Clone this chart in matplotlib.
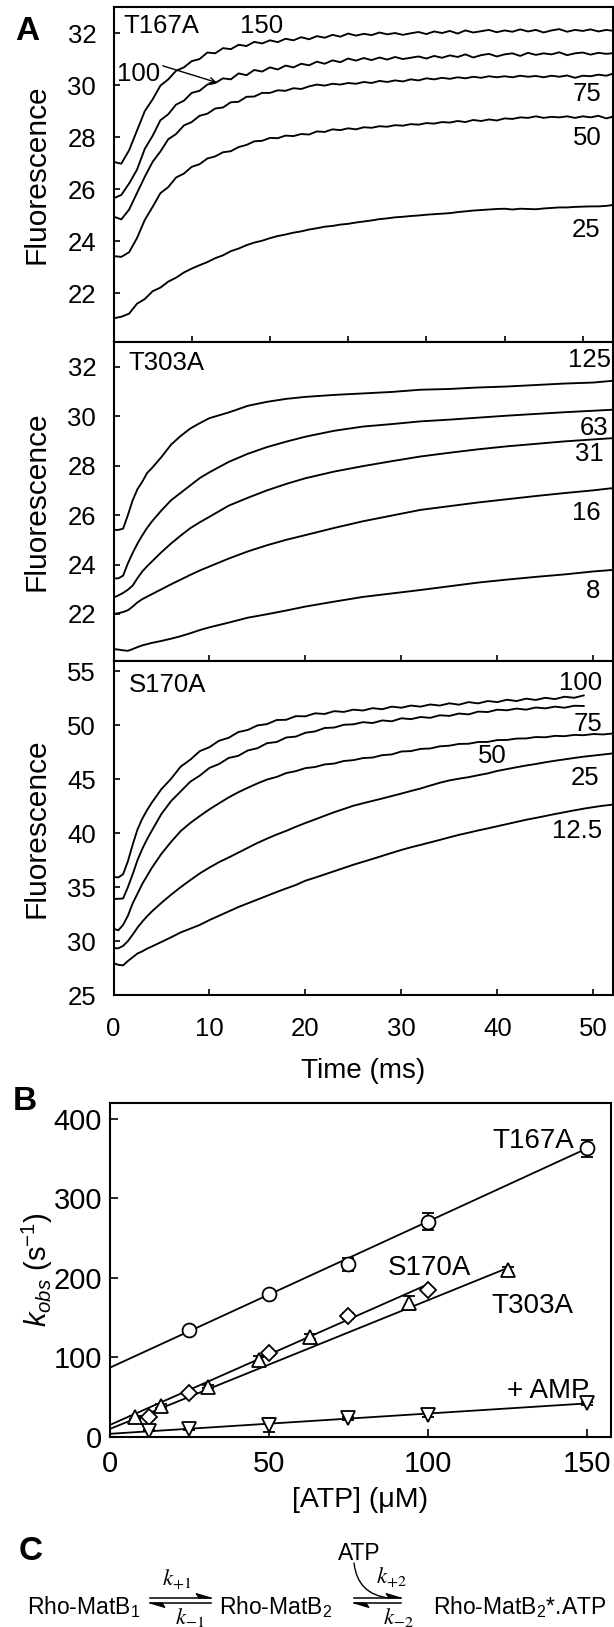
import numpy as np
import matplotlib
matplotlib.use("Agg")
import matplotlib.pyplot as plt
from matplotlib.patches import Polygon

plt.rcParams['font.family'] = ['Liberation Sans', 'DejaVu Sans']
plt.rcParams['mathtext.fontset'] = 'custom'
plt.rcParams['mathtext.rm'] = 'Liberation Sans'
plt.rcParams['mathtext.it'] = 'Liberation Sans:italic'
plt.rcParams['mathtext.bf'] = 'Liberation Sans:bold'

# ---------------- Panel A data: T167A (time in ms, 0..64) ----------------
t_T167A = np.arange(0, 65)
T167A_150 = [27.05, 26.98, 27.50, 28.25, 29.00, 29.45, 29.98, 30.22, 30.55, 30.68,
             30.92, 31.00, 31.25, 31.22, 31.42, 31.38, 31.55, 31.50, 31.66, 31.60,
             31.72, 31.65, 31.78, 31.72, 31.84, 31.76, 31.88, 31.82, 31.93, 31.86,
             31.98, 31.90, 31.97, 31.92, 32.02, 31.95, 32.00, 31.93, 31.99, 32.04,
             31.96, 32.06, 32.00, 32.08, 31.98, 32.10, 32.02, 32.07, 32.12, 32.03,
             32.10, 32.05, 32.14, 32.06, 32.12, 32.02, 32.10, 32.15, 32.05, 32.12,
             32.08, 32.14, 32.06, 32.12, 32.08]
T167A_100 = [25.65, 25.78, 26.22, 26.75, 27.55, 28.05, 28.65, 28.88, 29.25, 29.40,
             29.70, 29.78, 30.02, 30.08, 30.26, 30.22, 30.45, 30.38, 30.58, 30.52,
             30.68, 30.60, 30.75, 30.68, 30.82, 30.76, 30.90, 30.82, 30.95, 30.88,
             31.02, 30.94, 31.04, 30.96, 31.06, 30.98, 31.08, 31.00, 31.05, 31.10,
             31.02, 31.12, 31.05, 31.14, 31.08, 31.18, 31.06, 31.15, 31.20, 31.10,
             31.18, 31.22, 31.12, 31.24, 31.16, 31.22, 31.18, 31.26, 31.15, 31.22,
             31.25, 31.17, 31.24, 31.20, 31.23]
T167A_75 = [24.95, 24.84, 25.22, 25.85, 26.48, 27.05, 27.45, 27.92, 28.12, 28.45,
            28.58, 28.82, 28.90, 29.10, 29.14, 29.34, 29.36, 29.55, 29.56, 29.70,
            29.70, 29.80, 29.78, 29.88, 29.85, 29.95, 30.02, 29.98, 30.05, 30.02,
            30.08, 30.05, 30.12, 30.08, 30.16, 30.12, 30.18, 30.14, 30.22, 30.18,
            30.26, 30.22, 30.28, 30.24, 30.30, 30.26, 30.32, 30.28, 30.34, 30.30,
            30.34, 30.30, 30.36, 30.32, 30.35, 30.30, 30.36, 30.32, 30.37, 30.28,
            30.36, 30.34, 30.40, 30.36, 30.45]
T167A_50 = [23.43, 23.40, 23.58, 24.12, 24.82, 25.32, 25.85, 26.08, 26.45, 26.60,
            26.86, 26.96, 27.18, 27.26, 27.42, 27.46, 27.62, 27.70, 27.84, 27.86,
            27.97, 27.96, 28.06, 28.04, 28.12, 28.10, 28.22, 28.20, 28.30, 28.27,
            28.34, 28.30, 28.38, 28.36, 28.42, 28.40, 28.46, 28.44, 28.50, 28.48,
            28.54, 28.52, 28.58, 28.56, 28.62, 28.58, 28.66, 28.62, 28.68, 28.64,
            28.72, 28.70, 28.76, 28.74, 28.80, 28.74, 28.78, 28.76, 28.80, 28.74,
            28.80, 28.76, 28.82, 28.72, 28.80]
T167A_25 = [21.04, 21.10, 21.22, 21.60, 21.78, 22.08, 22.22, 22.45, 22.60, 22.80,
            22.95, 23.08, 23.20, 23.35, 23.46, 23.62, 23.72, 23.85, 23.95, 24.02,
            24.12, 24.20, 24.26, 24.33, 24.38, 24.45, 24.50, 24.56, 24.59, 24.64,
            24.67, 24.72, 24.76, 24.80, 24.85, 24.88, 24.92, 24.94, 24.97, 24.99,
            25.02, 25.04, 25.06, 25.08, 25.12, 25.15, 25.18, 25.20, 25.22, 25.24,
            25.25, 25.22, 25.25, 25.24, 25.23, 25.26, 25.28, 25.30, 25.30, 25.32,
            25.33, 25.34, 25.34, 25.36, 25.40]

# ---------------- Panel A data: T303A ----------------
t_T303A = [0, 0.5, 1, 1.5, 2, 2.5, 3, 3.5, 4, 5, 6, 7, 8, 9, 10, 12, 14, 16, 18, 20,
           23, 26, 29, 32, 35, 38, 41, 44, 47, 50, 52]
T303A_125 = [25.40, 25.40, 25.45, 26.00, 26.60, 27.05, 27.35, 27.70, 27.90, 28.35,
             28.85, 29.20, 29.50, 29.72, 29.92, 30.15, 30.42, 30.58, 30.70, 30.78,
             30.86, 30.92, 30.98, 31.07, 31.10, 31.16, 31.20, 31.26, 31.32, 31.36, 31.43]
T303A_63 = [23.44, 23.44, 23.55, 24.05, 24.47, 24.85, 25.18, 25.48, 25.74, 26.19,
            26.60, 26.90, 27.20, 27.50, 27.73, 28.15, 28.48, 28.75, 28.97, 29.17,
            29.41, 29.58, 29.68, 29.79, 29.86, 29.94, 30.02, 30.09, 30.16, 30.22, 30.26]
T303A_31 = [22.66, 22.75, 22.85, 22.98, 23.15, 23.45, 23.72, 23.93, 24.12, 24.50,
            24.85, 25.17, 25.47, 25.71, 25.93, 26.38, 26.70, 27.00, 27.26, 27.49,
            27.76, 27.98, 28.18, 28.37, 28.52, 28.66, 28.78, 28.88, 28.98, 29.06, 29.11]
T303A_16 = [22.00, 22.03, 22.08, 22.15, 22.30, 22.47, 22.60, 22.70, 22.80, 23.00,
            23.20, 23.39, 23.58, 23.76, 23.92, 24.24, 24.53, 24.78, 25.00, 25.19,
            25.48, 25.75, 25.98, 26.21, 26.36, 26.51, 26.64, 26.77, 26.89, 27.00, 27.09]
T303A_8 = [20.58, 20.56, 20.53, 20.51, 20.58, 20.66, 20.73, 20.78, 20.83, 20.91,
           21.00, 21.10, 21.22, 21.35, 21.46, 21.65, 21.85, 21.99, 22.14, 22.30,
           22.50, 22.69, 22.83, 22.97, 23.12, 23.27, 23.39, 23.50, 23.60, 23.72, 23.78]

# ---------------- Panel A data: S170A ----------------
t_S170A = [0, 0.5, 1, 1.5, 2, 2.5, 3, 3.5, 4] + list(range(5, 53))
S170A_100 = [35.95, 35.90, 36.20, 37.40, 38.95, 40.35, 41.35, 42.15, 42.85,
             44.10, 45.05, 46.18, 46.82, 47.62, 47.98, 48.58, 48.85, 49.38, 49.58,
             50.00, 50.12, 50.50, 50.52, 50.86, 50.84, 51.12, 51.06, 51.32, 51.25,
             51.46, 51.38, 51.60, 51.50, 51.74, 51.64, 51.84, 51.74, 51.94, 51.84,
             52.05, 51.92, 52.16, 52.04, 52.26, 52.16, 52.38, 52.26, 52.48, 52.36,
             52.56, 52.44, 52.66, 52.56, 52.78]
S170A_75 = [33.90, 33.92, 33.95, 35.00, 36.20, 37.50, 38.55, 39.45, 40.25,
            41.80, 42.98, 43.88, 44.78, 45.35, 46.06, 46.42, 46.98, 47.18, 47.68,
            47.88, 48.35, 48.46, 48.88, 48.96, 49.32, 49.44, 49.76, 49.80, 50.06,
            50.10, 50.30, 50.22, 50.46, 50.38, 50.66, 50.58, 50.78, 50.70, 50.94,
            50.88, 51.10, 51.02, 51.28, 51.24, 51.46, 51.40, 51.56, 51.46, 51.66,
            51.58, 51.74, 51.64, 51.82, 51.80]
S170A_50 = [31.15, 31.00, 31.50, 32.35, 33.50, 34.40, 35.30, 36.05, 36.80,
            38.10, 39.20, 40.20, 40.95, 41.60, 42.22, 42.78, 43.32, 43.80, 44.22,
            44.62, 44.98, 45.22, 45.58, 45.76, 46.04, 46.14, 46.38, 46.46, 46.70,
            46.78, 46.97, 47.02, 47.24, 47.31, 47.58, 47.62, 47.82, 47.86, 48.06,
            48.12, 48.28, 48.30, 48.46, 48.47, 48.64, 48.65, 48.78, 48.79, 48.92,
            48.90, 49.03, 49.00, 49.12, 49.09, 49.20, 49.16, 49.25]
S170A_25 = [29.35, 29.33, 29.55, 30.00, 30.60, 31.25, 31.80, 32.30, 32.75,
            33.55, 34.30, 35.00, 35.65, 36.28, 36.82, 37.32, 37.75, 38.20, 38.65,
            39.10, 39.50, 39.88, 40.22, 40.60, 40.95, 41.28, 41.62, 41.95, 42.25,
            42.55, 42.78, 43.00, 43.22, 43.45, 43.68, 43.92, 44.15, 44.42, 44.68,
            44.90, 45.06, 45.20, 45.38, 45.55, 45.78, 45.95, 46.12, 46.28, 46.42,
            46.58, 46.72, 46.85, 46.98, 47.10, 47.20, 47.30, 47.40]
S170A_12 = [27.95, 27.80, 27.75, 28.15, 28.50, 28.85, 29.05, 29.30, 29.50,
            29.92, 30.35, 30.80, 31.15, 31.50, 31.95, 32.35, 32.75, 33.15, 33.50,
            33.85, 34.20, 34.55, 34.88, 35.20, 35.60, 35.88, 36.18, 36.48, 36.78,
            37.08, 37.35, 37.62, 37.90, 38.18, 38.45, 38.70, 38.92, 39.15, 39.38,
            39.62, 39.85, 40.05, 40.26, 40.45, 40.65, 40.85, 41.05, 41.25, 41.42,
            41.60, 41.78, 41.95, 42.12, 42.28, 42.42, 42.55, 42.65]

# ---------------- Panel B data ----------------
atp_T167A = [25, 50, 75, 100, 150]
kobs_T167A = [134.6, 179.9, 217.2, 270.8, 363.0]
err_T167A = [3, 3, 8, 11, 11]
atp_S170A = [12.5, 25, 50, 75, 100]
kobs_S170A = [25.6, 55.8, 105.2, 152.2, 184.9]
err_S170A = [2, 2, 3, 4, 3]
atp_T303A = [8, 16, 31, 47, 63, 94, 125]
kobs_T303A = [24.8, 39.0, 63.3, 96.9, 126.2, 168.2, 210.0]
err_T303A = [2, 2, 2, 5, 3, 9, 4]
atp_AMP = [12.5, 25, 50, 75, 100, 150]
kobs_AMP = [8.0, 9.6, 15.0, 23.5, 27.7, 42.4]
err_AMP = [1, 1, 9, 2, 2, 2]
# linear fits (slope, intercept, max [ATP])
fit_T167A = (1.84, 87.0, 150)
fit_S170A = (1.77, 15.0, 100)
fit_T303A = (1.62, 10.0, 125)
fit_AMP = (0.255, 4.0, 150)

# ---------------- Figure ----------------
W, H = 614.0, 1627.0
fig = plt.figure(figsize=(W / 100, H / 100), dpi=100)


def rect(l, t, r, b):
    return [l / W, 1 - b / H, (r - l) / W, (b - t) / H]


axA1 = fig.add_axes(rect(113.5, 7, 612.5, 342))
axA2 = fig.add_axes(rect(113.5, 342, 612.5, 660.7))
axA3 = fig.add_axes(rect(113.5, 660.7, 612.5, 995))
axB = fig.add_axes(rect(109.6, 1103, 611, 1437))

LW = 1.35
TICK_FS = 18.5
ANN_FS = 18.5

for ax in (axA1, axA2, axA3, axB):
    for s in ax.spines.values():
        s.set_linewidth(1.5)
    ax.tick_params(direction='in', length=4, width=1.2, labelsize=TICK_FS,
                   top=False, right=False)

# --- A1: T167A
for y in (T167A_150, T167A_100, T167A_75, T167A_50, T167A_25):
    axA1.plot(t_T167A, y, color='k', lw=LW)
axA1.set_xlim(0, 63.8)
axA1.set_ylim(20.13, 33.0)
axA1.set_xticks([0, 10, 20, 30, 40, 50, 60])
axA1.set_xticklabels([])
axA1.set_yticks([22, 24, 26, 28, 30, 32])
axA1.tick_params(axis='y', pad=12.5)
axA1.text(1.3, 32.0, 'T167A', fontsize=ANN_FS, ha='left', va='baseline')
axA1.text(18.9, 32.0, '150', fontsize=ANN_FS, ha='center', va='baseline')
axA1.text(3.2, 30.14, '100', fontsize=ANN_FS, ha='center', va='baseline')
axA1.text(62.4, 29.37, '75', fontsize=ANN_FS, ha='right', va='baseline')
axA1.text(62.4, 27.70, '50', fontsize=ANN_FS, ha='right', va='baseline')
axA1.text(62.2, 24.18, '25', fontsize=ANN_FS, ha='right', va='baseline')
axA1.annotate('', xy=(13.2, 30.1), xytext=(6.3, 30.74),
              arrowprops=dict(arrowstyle='->', lw=1.0, color='k',
                              shrinkA=0, shrinkB=0))

# --- A2: T303A
for y in (T303A_125, T303A_63, T303A_31, T303A_16, T303A_8):
    axA2.plot(t_T303A, y, color='k', lw=LW)
axA2.set_xlim(0, 52)
axA2.set_ylim(20.11, 33.0)
axA2.set_xticks([0, 10, 20, 30, 40, 50])
axA2.set_xticklabels([])
axA2.set_yticks([22, 24, 26, 28, 30, 32])
axA2.tick_params(axis='y', pad=12.5)
axA2.text(1.55, 31.88, 'T303A', fontsize=ANN_FS, ha='left', va='baseline')
axA2.text(51.8, 32.0, '125', fontsize=ANN_FS, ha='right', va='baseline')
axA2.text(51.6, 29.25, '63', fontsize=ANN_FS, ha='right', va='baseline')
axA2.text(51.1, 28.17, '31', fontsize=ANN_FS, ha='right', va='baseline')
axA2.text(50.75, 25.8, '16', fontsize=ANN_FS, ha='right', va='baseline')
axA2.text(50.75, 22.64, '8', fontsize=ANN_FS, ha='right', va='baseline')

# --- A3: S170A
axA3.plot(t_S170A[:len(S170A_100)], S170A_100, color='k', lw=LW)
axA3.plot(t_S170A[:len(S170A_75)], S170A_75, color='k', lw=LW)
for y in (S170A_50, S170A_25, S170A_12):
    axA3.plot(t_S170A, y, color='k', lw=LW)
axA3.set_xlim(0, 52)
axA3.set_ylim(25, 56)
axA3.set_xticks([0, 10, 20, 30, 40, 50])
axA3.set_yticks([25, 30, 35, 40, 45, 50, 55])
axA3.tick_params(axis='y', pad=12.5)
axA3.tick_params(axis='x', pad=15.5)
axA3.text(1.55, 53.1, 'S170A', fontsize=ANN_FS, ha='left', va='baseline')
axA3.text(50.9, 53.31, '100', fontsize=ANN_FS, ha='right', va='baseline')
axA3.text(50.9, 49.44, '75', fontsize=ANN_FS, ha='right', va='baseline')
axA3.text(39.5, 46.5, '50', fontsize=ANN_FS, ha='center', va='baseline')
axA3.text(50.6, 44.5, '25', fontsize=ANN_FS, ha='right', va='baseline')
axA3.text(50.9, 39.55, '12.5', fontsize=ANN_FS, ha='right', va='baseline')

# --- B
for slope, icpt, xmax in (fit_T167A, fit_S170A, fit_T303A, fit_AMP):
    xs = np.array([0.0, xmax])
    axB.plot(xs, icpt + slope * xs, color='k', lw=1.3, zorder=2)
mk = dict(color='k', mfc='white', mec='k', mew=1.3, ls='none', ecolor='k',
          elinewidth=1.2, capsize=4, capthick=1.2, zorder=3)
axB.errorbar(atp_T167A, kobs_T167A, yerr=err_T167A, marker='o', ms=10, **mk)
axB.errorbar(atp_S170A, kobs_S170A, yerr=err_S170A, marker='D', ms=8, **mk)
axB.errorbar(atp_T303A, kobs_T303A, yerr=err_T303A, marker='^', ms=9.5, **mk)
axB.errorbar(atp_AMP, kobs_AMP, yerr=err_AMP, marker='v', ms=9.5, **mk)
axB.set_xlim(0, 157.5)
axB.set_ylim(0, 420)
axB.set_xticks([0, 50, 100, 150])
axB.set_yticks([0, 100, 200, 300, 400])
axB.tick_params(direction='in', length=6, labelsize=21)
axB.tick_params(axis='y', pad=5.5)
axB.tick_params(axis='x', pad=9)
BFS = 20
axB.text(146, 364, 'T167A', fontsize=BFS, ha='right', va='baseline')
axB.text(87.4, 204, 'S170A', fontsize=BFS, ha='left', va='baseline')
axB.text(120, 156, 'T303A', fontsize=BFS, ha='left', va='baseline')
axB.text(150.8, 49, '+ AMP', fontsize=BFS, ha='right', va='baseline')

# ---------------- Overlay for free text (pixel coordinates) ----------------
ov = fig.add_axes([0, 0, 1, 1])
ov.set_xlim(0, W)
ov.set_ylim(H, 0)
ov.axis('off')

ov.text(15, 31, 'A', fontsize=24, fontweight='bold', ha='left', va='center')
ov.text(13, 1102, 'B', fontsize=24, fontweight='bold', ha='left', va='center')
ov.text(19, 1551, 'C', fontsize=24, fontweight='bold', ha='left', va='center')

for yc in ((7 + 342) / 2, (342 + 660.7) / 2, (660.7 + 995) / 2):
    ov.text(37, yc, 'Fluorescence', fontsize=21.5, rotation=90,
            ha='center', va='center')
ov.text((113.5 + 612.5) / 2, 1071, 'Time (ms)', fontsize=20,
        ha='center', va='center')
ov.text((109.6 + 611) / 2, 1500, '[ATP] (\u03bcM)', fontsize=20.5,
        ha='center', va='center')
ov.text(37, 1270, r'$\mathit{k}_{\mathit{obs}}$' + ' (s$^{\\mathrm{-1}}$)',
        fontsize=21, rotation=90, ha='center', va='center')

# Panel C scheme
CFS = 16.5
base = 1614
ov.text(27, base, r'Rho-MatB$_{1}$', fontsize=CFS, ha='left', va='baseline')
ov.text(219, base, r'Rho-MatB$_{2}$', fontsize=CFS, ha='left', va='baseline')
ov.text(433, base, r'Rho-MatB$_{2}$*.ATP', fontsize=CFS, ha='left', va='baseline')
ov.text(359, 1560, 'ATP', fontsize=CFS, ha='center', va='baseline')
ov.text(177, 1586, r'$k_{+1}$', fontsize=16.5, ha='center', va='baseline',
        math_fontfamily='stix')
ov.text(190, 1624, r'$k_{-1}$', fontsize=16.5, ha='center', va='baseline',
        math_fontfamily='stix')
ov.text(391, 1584, r'$k_{+2}$', fontsize=16.5, ha='center', va='baseline',
        math_fontfamily='stix')
ov.text(398, 1624, r'$k_{-2}$', fontsize=16.5, ha='center', va='baseline',
        math_fontfamily='stix')


def harpoons(x0, x1, yu, yl):
    ov.plot([x0, x1], [yu, yu], color='k', lw=1.1)
    ov.add_patch(Polygon([(x1, yu), (x1 - 15, yu - 4.5), (x1 - 12, yu)],
                         closed=True, fc='k', ec='k', lw=0.8))
    ov.plot([x0, x1], [yl, yl], color='k', lw=1.1)
    ov.add_patch(Polygon([(x0, yl), (x0 + 15, yl + 4.5), (x0 + 12, yl)],
                         closed=True, fc='k', ec='k', lw=0.8))


harpoons(150, 211, 1598, 1603)
harpoons(354, 401, 1598, 1603)
ov.annotate('', xy=(389, 1598), xytext=(354, 1563),
            arrowprops=dict(arrowstyle='-', lw=1.0, color='k',
                            connectionstyle='arc3,rad=0.4',
                            shrinkA=0, shrinkB=0))

fig.savefig('out.png', dpi=100)
